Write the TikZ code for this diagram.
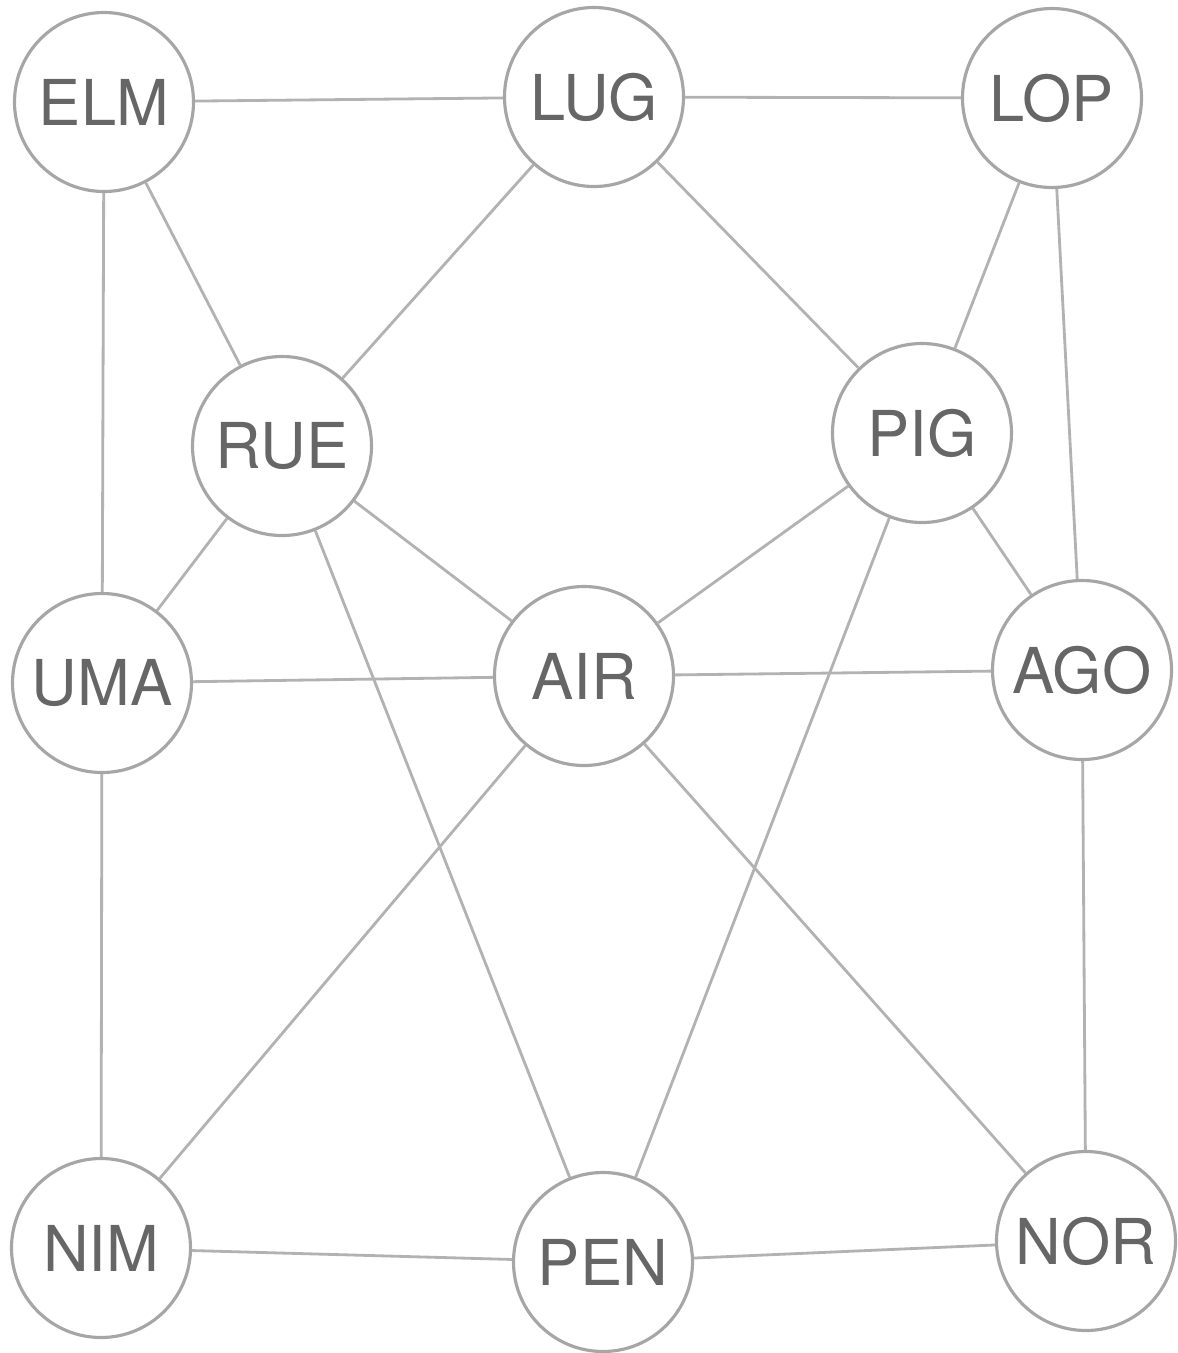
\documentclass[tikz,border=0pt]{standalone}
\usepackage{fontspec}
\setmainfont{TeX Gyre Heros}
\usepackage{tikz}

\begin{document}
\begin{tikzpicture}[font=\fontsize{18pt}{20pt}\selectfont,
  sigla/.style={draw=black!35, circle, line width=0.9pt, minimum size=1.79cm, inner sep=0pt, text=black!60},
  lig/.style={draw=black!30, line width=0.8pt}]
  \useasboundingbox (0,0) rectangle (11.77,-13.53);
  \node[sigla] (elm) at (1.04,-1.02) {ELM};
  \node[sigla] (lug) at (5.94,-0.97) {LUG};
  \node[sigla] (lop) at (10.52,-0.98) {LOP};
  \node[sigla] (rue) at (2.82,-4.46) {RUE};
  \node[sigla] (pig) at (9.22,-4.33) {PIG};
  \node[sigla] (uma) at (1.02,-6.83) {UMA};
  \node[sigla] (air) at (5.84,-6.76) {AIR};
  \node[sigla] (ago) at (10.82,-6.70) {AGO};
  \node[sigla] (nim) at (1.01,-12.48) {NIM};
  \node[sigla] (pen) at (6.03,-12.62) {PEN};
  \node[sigla] (nor) at (10.86,-12.41) {NOR};
  \draw[lig] (elm) -- (lug);
  \draw[lig] (lug) -- (lop);
  \draw[lig] (elm) -- (uma);
  \draw[lig] (elm) -- (rue);
  \draw[lig] (lug) -- (rue);
  \draw[lig] (lug) -- (pig);
  \draw[lig] (lop) -- (pig);
  \draw[lig] (lop) -- (ago);
  \draw[lig] (rue) -- (uma);
  \draw[lig] (rue) -- (air);
  \draw[lig] (rue) -- (pen);
  \draw[lig] (pig) -- (air);
  \draw[lig] (pig) -- (ago);
  \draw[lig] (pig) -- (pen);
  \draw[lig] (uma) -- (air);
  \draw[lig] (uma) -- (nim);
  \draw[lig] (air) -- (ago);
  \draw[lig] (air) -- (nim);
  \draw[lig] (air) -- (nor);
  \draw[lig] (ago) -- (nor);
  \draw[lig] (nim) -- (pen);
  \draw[lig] (pen) -- (nor);
\end{tikzpicture}
\end{document}
